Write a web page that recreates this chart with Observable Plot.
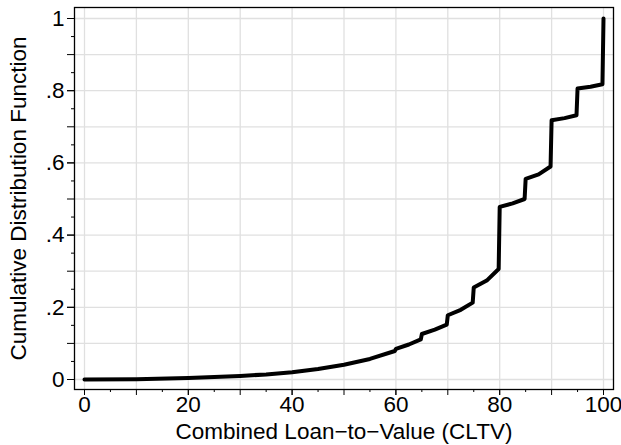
<!DOCTYPE html>
<html>
<head>
<meta charset="utf-8">
<script src="https://cdn.jsdelivr.net/npm/d3@7"></script>
<script src="https://cdn.jsdelivr.net/npm/@observablehq/plot@0.6"></script>
<style>
  html, body { margin: 0; padding: 0; background: #fff; }
  #chart svg { display: block; }
</style>
</head>
<body>
<div id="chart"></div>
<script>
// Empirical CDF of combined loan-to-value; repeated x values are the jumps.
const cltv = [0, 10, 20, 25, 30, 35, 40, 45, 50, 55, 59.8, 60, 62.5, 64.8, 65, 67.5, 69.8, 70, 72.5, 74.8, 75, 77.5, 79.8, 80, 82.5, 84.8, 85, 87.5, 89.8, 90, 92.5, 94.8, 95, 97.5, 99.8, 100];
const cdf  = [0, 0.001, 0.004, 0.007, 0.010, 0.014, 0.020, 0.029, 0.041, 0.057, 0.079, 0.085, 0.097, 0.111, 0.126, 0.138, 0.152, 0.178, 0.193, 0.213, 0.255, 0.274, 0.306, 0.478, 0.488, 0.500, 0.556, 0.568, 0.590, 0.718, 0.724, 0.732, 0.806, 0.811, 0.818, 1.0];

// Axis ticks, grid and labels
const xLabelTicks = [0, 20, 40, 60, 80, 100];
const xGridTicks  = [0, 10, 20, 30, 40, 50, 60, 70, 80, 90, 100];
const xMinorTicks = [5, 15, 25, 35, 45, 55, 65, 75, 85, 95];
const yLabelTicks = [0, 0.2, 0.4, 0.6, 0.8, 1];
const yGridTicks  = [0, 0.1, 0.2, 0.3, 0.4, 0.5, 0.6, 0.7, 0.8, 0.9, 1];
const yMinorTicks = [0.05, 0.15, 0.25, 0.35, 0.45, 0.55, 0.65, 0.75, 0.85, 0.95];
const xTitle = "Combined Loan\u2212to\u2212Value (CLTV)";
const yTitle = "Cumulative Distribution Function";

const points = cltv.map((x, i) => ({x, y: cdf[i]}));
const yFormat = d => d === 0 ? "0" : d === 1 ? "1" : d3.format(".1f")(d).replace(/^0/, "");
const blank = () => "";
const gridColor = "#e0e0e0";

const chart = Plot.plot({
  width: 621,
  height: 445,
  marginLeft: 74,
  marginRight: 8,
  marginTop: 7,
  marginBottom: 56,
  style: {fontFamily: "'Liberation Sans', Arial, sans-serif", fontSize: "22.5px", background: "#fff", color: "#000"},
  x: {domain: [0, 100], insetLeft: 10, insetRight: 10},
  y: {domain: [0, 1], insetTop: 11, insetBottom: 10},
  marks: [
    Plot.gridX(xGridTicks, {stroke: gridColor, strokeOpacity: 1, strokeWidth: 1.3}),
    Plot.gridY(yGridTicks, {stroke: gridColor, strokeOpacity: 1, strokeWidth: 1.3}),
    Plot.axisX(xMinorTicks, {tickSize: 3, tickFormat: blank, label: null}),
    Plot.axisX(xGridTicks, {tickSize: 6, tickFormat: blank, label: null}),
    Plot.axisX(xLabelTicks, {tickSize: 6, tickPadding: 1, label: xTitle, labelArrow: "none", labelAnchor: "center", labelOffset: 49}),
    Plot.axisY(yMinorTicks, {tickSize: 3, tickFormat: blank, label: null}),
    Plot.axisY(yGridTicks, {tickSize: 7, tickFormat: blank, label: null}),
    Plot.axisY(yLabelTicks, {tickSize: 7, tickPadding: 3, tickFormat: yFormat, label: yTitle, labelArrow: "none", labelAnchor: "center", labelOffset: 64}),
    Plot.line(points, {x: "x", y: "y", stroke: "#000", strokeWidth: 4, strokeLinejoin: "round", strokeLinecap: "round"}),
    Plot.frame({stroke: "#000", strokeWidth: 1.3})
  ]
});
document.getElementById("chart").append(chart);
</script>
</body>
</html>
